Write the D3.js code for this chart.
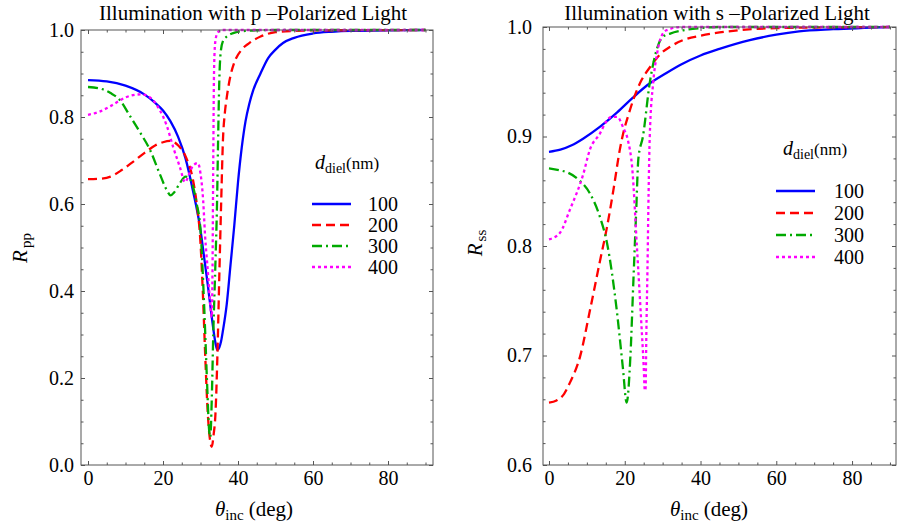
<!DOCTYPE html>
<html>
<head>
<meta charset="utf-8">
<script src="https://cdn.jsdelivr.net/npm/d3@7/dist/d3.min.js"></script>
<style>
body { margin: 0; background: #fff; }
svg text { font-family: "Liberation Serif", "Times New Roman", serif; fill: #000; }
</style>
</head>
<body>
<div id="viz"></div>
<script>
// legend entries and line styles
var thickness = ["100", "200", "300", "400"];
var colors = ["#0000ff", "#ff0000", "#00aa00", "#ff00ff"];
var dashes = [null, "9,5", "10,4,2,4", "3,3"];

// p-polarized, R_pp vs incidence angle (deg)
var pAng100 = [0,5,10,15,18,20,22,24,26,28,30,31,32,33,34,34.5,35,35.5,36,37,38,39,40,41,42,43,44,46,48,50,52,55,60,65,70,80,90];
var pR100   = [0.885,0.882,0.872,0.852,0.832,0.815,0.79,0.755,0.705,0.63,0.54,0.475,0.41,0.34,0.28,0.264,0.27,0.285,0.31,0.37,0.46,0.55,0.65,0.73,0.79,0.83,0.86,0.9,0.935,0.955,0.97,0.982,0.992,0.996,0.998,0.999,1.0];

var pAng200 = [0,3,6,9,12,15,18,20,22,24,26,28,29,30,30.7,31.2,32,32.5,33,33.5,34,34.5,35,35.5,36,36.5,37,38,39,41,43,46,50,55,60,90];
var pR200   = [0.657,0.658,0.663,0.678,0.697,0.717,0.735,0.742,0.745,0.735,0.71,0.655,0.6,0.51,0.38,0.264,0.11,0.06,0.042,0.07,0.12,0.25,0.43,0.6,0.75,0.81,0.845,0.895,0.925,0.955,0.97,0.985,0.995,0.998,0.999,1.0];

var pAng300 = [0,3,6,8.5,11,14,16.5,19,21,22,23,24.5,26,27,28,29,30,31,31.7,32.3,32.6,33,33.4,34,34.4,34.7,35,35.4,36,37,38.7,42,50,90];
var pR300   = [0.869,0.866,0.855,0.839,0.805,0.763,0.725,0.672,0.632,0.62,0.627,0.648,0.663,0.66,0.64,0.6,0.54,0.36,0.2,0.08,0.064,0.15,0.3,0.47,0.6,0.75,0.88,0.95,0.975,0.985,0.993,0.998,1.0,1.0];

var pAng400 = [0,3,6,10,14,16,19,21,22.7,24.5,25.9,27,28,29.3,30,30.7,31.2,32,32.5,33,33.2,33.4,33.6,33.9,34.5,35.5,40,90];
var pR400   = [0.805,0.812,0.825,0.845,0.852,0.848,0.818,0.78,0.731,0.685,0.65,0.67,0.688,0.694,0.67,0.609,0.53,0.44,0.38,0.34,0.45,0.7,0.9,0.97,0.993,1.0,1.0,1.0];

// s-polarized, R_ss vs incidence angle (deg)
var sAng100 = [0,3,6,9,13.5,18,22,26,31,35,40,45,53,60,66,75,90];
var sR100   = [0.886,0.888,0.892,0.898,0.909,0.922,0.935,0.947,0.958,0.966,0.974,0.98,0.988,0.993,0.996,0.998,1.0];

var sAng200 = [0,2,4,5.5,8.2,10.8,13.5,15.3,17,18.7,19.6,21,22.2,24.5,26.6,29.3,32,35.4,40,45,50,60,90];
var sR200   = [0.657,0.659,0.665,0.675,0.699,0.741,0.787,0.817,0.851,0.888,0.903,0.92,0.933,0.952,0.963,0.975,0.982,0.988,0.992,0.995,0.997,0.999,1.0];

var sAng300 = [0,3,5,8,10.8,13.5,15.3,17.9,19.5,20.5,21.5,22.3,23,23.6,24.8,26.6,28.4,30,32,35.4,40,45,90];
var sR300   = [0.871,0.869,0.867,0.86,0.848,0.826,0.803,0.741,0.689,0.657,0.7,0.77,0.83,0.88,0.9,0.949,0.979,0.991,0.994,0.997,0.999,1.0,1.0];

var sAng400 = [0,2.9,5.5,9,10.8,13.5,15,16.5,18,19.6,20.8,22,23.2,24.2,25,25.3,25.5,25.7,26,26.3,26.6,27.5,28.5,29.3,31,35,90];
var sR400   = [0.806,0.812,0.833,0.865,0.888,0.903,0.913,0.918,0.918,0.908,0.897,0.87,0.8,0.74,0.69,0.668,0.67,0.72,0.78,0.85,0.9,0.949,0.975,0.988,0.997,1.0,1.0];

var xTicks = [0, 20, 40, 60, 80];
var xMinor = d3.range(0, 91, 5).filter(function(d) { return d % 20 != 0; });

var svg = d3.select("#viz")
    .append("svg")
    .attr("width", 899)
    .attr("height", 526);

function drawPanel(cfg) {
    var x = d3.scaleLinear().domain(cfg.xDomain).range([cfg.left, cfg.right]);
    var y = d3.scaleLinear().domain(cfg.yDomain).range([cfg.bottom, cfg.top]);
    var g = svg.append("g");

    var line = d3.line()
        .x(function(d) { return x(d[0]); })
        .y(function(d) { return y(d[1]); })
        .curve(d3.curveMonotoneX);

    g.selectAll("path.curve")
        .data(cfg.series)
        .enter().append("path")
        .attr("class", "curve")
        .attr("fill", "none")
        .attr("stroke", function(d, i) { return colors[i]; })
        .attr("stroke-width", 2.3)
        .attr("stroke-dasharray", function(d, i) { return dashes[i]; })
        .attr("d", line);

    function clean(sel) {
        sel.select(".domain").remove();
        sel.selectAll(".tick line").attr("stroke", "#555");
        sel.attr("font-size", 20).attr("font-family", null);
    }

    // major ticks, labelled on bottom and left
    g.append("g").attr("transform", "translate(0," + cfg.bottom + ")")
        .call(d3.axisBottom(x).tickValues(xTicks).tickSize(-4).tickPadding(6).tickFormat(d3.format("d")))
        .call(clean);
    g.append("g").attr("transform", "translate(0," + cfg.top + ")")
        .call(d3.axisTop(x).tickValues(xTicks).tickSize(-4).tickFormat(""))
        .call(clean);
    g.append("g").attr("transform", "translate(" + cfg.left + ",0)")
        .call(d3.axisLeft(y).tickValues(cfg.yTicks).tickSize(-4).tickPadding(cfg.yPad).tickFormat(d3.format(".1f")))
        .call(clean);
    g.append("g").attr("transform", "translate(" + cfg.right + ",0)")
        .call(d3.axisRight(y).tickValues(cfg.yTicks).tickSize(-4).tickFormat(""))
        .call(clean);

    // minor ticks
    g.append("g").attr("transform", "translate(0," + cfg.bottom + ")")
        .call(d3.axisBottom(x).tickValues(xMinor).tickSize(-2.5).tickFormat("")).call(clean);
    g.append("g").attr("transform", "translate(0," + cfg.top + ")")
        .call(d3.axisTop(x).tickValues(xMinor).tickSize(-2.5).tickFormat("")).call(clean);
    g.append("g").attr("transform", "translate(" + cfg.left + ",0)")
        .call(d3.axisLeft(y).tickValues(cfg.yMinor).tickSize(-2.5).tickFormat("")).call(clean);
    g.append("g").attr("transform", "translate(" + cfg.right + ",0)")
        .call(d3.axisRight(y).tickValues(cfg.yMinor).tickSize(-2.5).tickFormat("")).call(clean);

    g.append("rect")
        .attr("x", cfg.left).attr("y", cfg.top)
        .attr("width", cfg.right - cfg.left).attr("height", cfg.bottom - cfg.top)
        .attr("fill", "none").attr("stroke", "#555").attr("stroke-width", 1);

    // title
    g.append("text")
        .attr("x", cfg.titleX).attr("y", 20)
        .attr("text-anchor", "middle").attr("font-size", 21)
        .text(cfg.title);

    // x label
    var xl = g.append("text")
        .attr("x", cfg.xLabelX).attr("y", 516)
        .attr("text-anchor", "middle").attr("font-size", 21);
    xl.append("tspan").attr("font-style", "italic").text("\u03b8");
    xl.append("tspan").attr("font-size", 15).attr("dy", 4).text("inc");
    xl.append("tspan").attr("dy", -4).text(" (deg)");

    // y label
    var yl = g.append("text")
        .attr("transform", "translate(" + cfg.yLabelX + "," + cfg.yLabelY + ") rotate(-90)")
        .attr("text-anchor", "middle").attr("font-size", 21);
    yl.append("tspan").attr("font-style", "italic").text("R");
    yl.append("tspan").attr("font-size", 15).attr("dx", 2).attr("dy", 4).text(cfg.sub);

    // legend
    var lt = g.append("text")
        .attr("x", cfg.legX).attr("y", cfg.legTitleY)
        .attr("font-size", 20);
    lt.append("tspan").attr("font-style", "italic").text("d");
    lt.append("tspan").attr("font-size", 14).attr("dy", 4).text("diel");
    lt.append("tspan").attr("font-size", 17).attr("dy", -4).text("(nm)");

    var leg = g.selectAll("g.leg")
        .data(thickness)
        .enter().append("g")
        .attr("class", "leg")
        .attr("transform", function(d, i) { return "translate(0," + (cfg.legY + i * cfg.legStep) + ")"; });
    leg.append("line")
        .attr("x1", cfg.legLine[0]).attr("x2", cfg.legLine[1])
        .attr("stroke", function(d, i) { return colors[i]; })
        .attr("stroke-width", 2.3)
        .attr("stroke-dasharray", function(d, i) { return dashes[i]; });
    leg.append("text")
        .attr("x", cfg.legTextX).attr("y", 7)
        .attr("text-anchor", "end").attr("font-size", 20)
        .text(function(d) { return d; });
}

drawPanel({
    left: 81, right: 433, top: 30, bottom: 465,
    xDomain: [-1.87, 92], yDomain: [0, 1],
    yTicks: [0, 0.2, 0.4, 0.6, 0.8, 1.0],
    yMinor: d3.range(0.05, 1, 0.05).filter(function(d) { return Math.round(d * 100) % 20 != 0; }),
    yPad: 7,
    series: [d3.zip(pAng100, pR100), d3.zip(pAng200, pR200), d3.zip(pAng300, pR300), d3.zip(pAng400, pR400)],
    title: "Illumination with p \u2013Polarized Light", titleX: 253,
    xLabelX: 254, yLabelX: 27, yLabelY: 248, sub: "pp",
    legX: 315, legTitleY: 169, legY: 204, legStep: 21, legLine: [312, 351], legTextX: 398
});

drawPanel({
    left: 543, right: 896, top: 27, bottom: 465,
    xDomain: [-1.58, 91.6], yDomain: [0.6, 1.0],
    yTicks: [0.6, 0.7, 0.8, 0.9, 1.0],
    yMinor: d3.range(0.62, 1, 0.02).filter(function(d) { return Math.round(d * 100) % 10 != 0; }),
    yPad: 11,
    series: [d3.zip(sAng100, sR100), d3.zip(sAng200, sR200), d3.zip(sAng300, sR300), d3.zip(sAng400, sR400)],
    title: "Illumination with s \u2013Polarized Light", titleX: 717,
    xLabelX: 709, yLabelX: 482, yLabelY: 243, sub: "ss",
    legX: 783, legTitleY: 155, legY: 191, legStep: 22, legLine: [776, 815], legTextX: 864
});
</script>
</body>
</html>
